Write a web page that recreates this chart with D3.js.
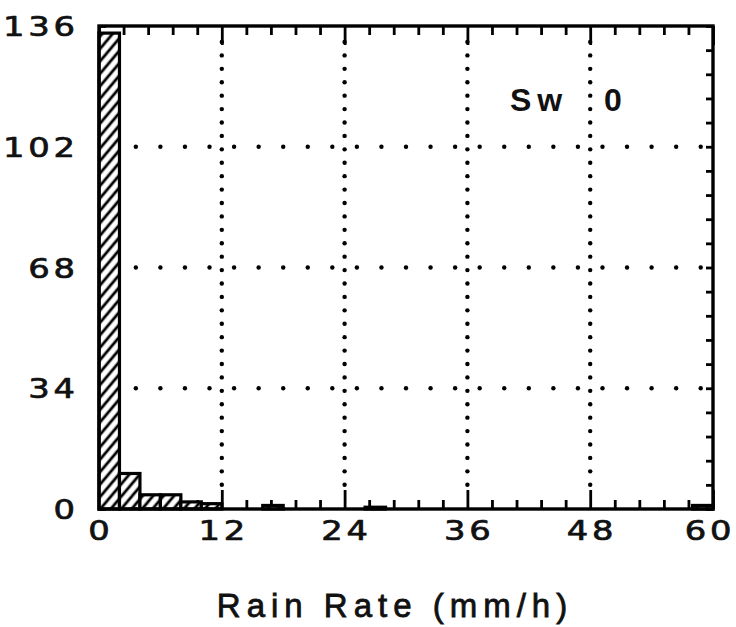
<!DOCTYPE html>
<html>
<head>
<meta charset="utf-8">
<script src="https://cdn.jsdelivr.net/npm/d3@7"></script>
<style>
  html, body { margin: 0; padding: 0; background: #fff; }
  svg { display: block; }
</style>
</head>
<body>
<svg id="chart" width="736" height="627"></svg>
<script>
// Histogram of rain rate, 2 mm/h bins from 0 to 60
const binStarts = d3.range(0, 60, 2);
const binWidth = 2;
const counts = [134, 10, 4, 4, 2, 1.5, 0, 0, 1, 0, 0, 0, 0, 0.5, 0,
                0, 0, 0, 0, 0, 0, 0, 0, 0, 0, 0, 0, 0, 0, 1];
const xTicks = [0, 12, 24, 36, 48, 60];
const yTicks = [0, 34, 68, 102, 136];
const xMinorTicks = d3.range(0, 60.01, 2.4);
const yMinorTicks = d3.range(0, 136.01, 6.8);
const xTitle = "Rain Rate (mm/h)";
const panelLabel = "Sw";
const panelValue = "0";

const svg = d3.select("#chart");
const L = 99, R = 713, T = 26, B = 509;

const x = d3.scaleLinear().domain([0, 60]).range([L, R]);
const y = d3.scaleLinear().domain([0, 136]).range([B, T]);

// hatch fill for the bars
const defs = svg.append("defs");
const pat = defs.append("pattern")
  .attr("id", "hatch")
  .attr("patternUnits", "userSpaceOnUse")
  .attr("width", 8).attr("height", 8)
  .attr("patternTransform", "rotate(40)");
pat.append("rect").attr("width", 8).attr("height", 8).attr("fill", "#fff");
pat.append("line")
  .attr("x1", 4).attr("y1", 0).attr("x2", 4).attr("y2", 8)
  .attr("stroke", "#000").attr("stroke-width", 2.8);

// dotted grid lines at the major ticks
const grid = svg.append("g");
const hDots = d3.range(1.2, 60, 2.4);
[34, 68, 102].forEach(v => {
  grid.selectAll(null).data(hDots).enter().append("circle")
    .attr("cx", d => x(d)).attr("cy", y(v)).attr("r", 2.2).attr("fill", "#000");
});
const vStep = (y(0) - y(34)) / 9;
const vDots = d3.range(T + 16, B - 14, vStep);
[12, 24, 36, 48].forEach(v => {
  grid.selectAll(null).data(vDots).enter().append("circle")
    .attr("cx", x(v)).attr("cy", d => d).attr("r", 2.2).attr("fill", "#000");
});

// inward tick marks on all four sides
function styleTicks(g) {
  g.select(".domain").remove();
  g.selectAll(".tick line").attr("stroke", "#000").attr("stroke-width", 2.8);
  g.selectAll(".tick text").remove();
}
const majorX = v => xTicks.includes(Math.round(v * 10) / 10);
svg.append("g").attr("transform", `translate(0,${B})`)
  .call(d3.axisBottom(x).tickValues(xMinorTicks).tickSize(-9))
  .call(styleTicks)
  .selectAll(".tick line").attr("y2", d => majorX(d) ? -19 : -9);
svg.append("g").attr("transform", `translate(0,${T})`)
  .call(d3.axisTop(x).tickValues(xMinorTicks).tickSize(-9))
  .call(styleTicks)
  .selectAll(".tick line").attr("y2", d => majorX(d) ? 19 : 9);
svg.append("g").attr("transform", `translate(${R},0)`)
  .call(d3.axisRight(y).tickValues(yMinorTicks).tickSize(-7))
  .call(styleTicks);
svg.append("g").attr("transform", `translate(${L},0)`)
  .call(d3.axisLeft(y).tickValues(yMinorTicks).tickSize(-7))
  .call(styleTicks);

// bars
const bins = binStarts.map((s, i) => ({ x0: s, x1: s + binWidth, n: counts[i] }));
svg.append("g").selectAll("rect")
  .data(bins.filter(d => d.n > 0)).enter().append("rect")
  .attr("x", d => x(d.x0))
  .attr("y", d => y(d.n))
  .attr("width", d => x(d.x1) - x(d.x0))
  .attr("height", d => y(0) - y(d.n))
  .attr("fill", "url(#hatch)")
  .attr("stroke", "#000")
  .attr("stroke-width", 3.2);

// frame
svg.append("rect")
  .attr("x", L).attr("y", T).attr("width", R - L).attr("height", B - T)
  .attr("fill", "none").attr("stroke", "#000").attr("stroke-width", 3.4);

// tick labels: wide plotter-style digits
const ls = 3;
const sx = 1.25;
const labelFont = "'DejaVu Sans', sans-serif";
function tickText(sel) {
  sel.attr("font-family", labelFont).attr("font-size", 27)
    .attr("letter-spacing", ls)
    .attr("fill", "#111").attr("stroke", "#111").attr("stroke-width", 0.7)
    .attr("stroke-linejoin", "round");
}
svg.append("g").selectAll("text").data(xTicks).enter().append("text")
  .attr("transform", d => `translate(${Math.min(x(d), 708)},540) scale(${sx},1)`)
  .attr("dx", ls / 2)
  .attr("text-anchor", "middle")
  .call(tickText)
  .text(d => d);
svg.append("g").selectAll("text").data(yTicks).enter().append("text")
  .attr("transform", d => `translate(75,${y(d) + 10}) scale(${sx},1)`)
  .attr("dx", ls)
  .attr("text-anchor", "end")
  .call(tickText)
  .text(d => d);

// axis title
svg.append("text")
  .attr("x", 392 + 3).attr("y", 617)
  .attr("text-anchor", "middle")
  .attr("font-family", "'Liberation Sans', Arial, sans-serif")
  .attr("font-size", 33)
  .attr("letter-spacing", 6)
  .attr("fill", "#111")
  .attr("stroke", "#111").attr("stroke-width", 0.8)
  .text(xTitle);

// panel label
svg.append("text")
  .attr("x", 510).attr("y", 111)
  .attr("font-family", "'Liberation Sans', Arial, sans-serif")
  .attr("font-size", 32).attr("font-weight", "bold")
  .attr("letter-spacing", 6)
  .attr("fill", "#111")
  .text(panelLabel);
svg.append("text")
  .attr("x", 604).attr("y", 111)
  .attr("font-family", "'Liberation Sans', Arial, sans-serif")
  .attr("font-size", 32).attr("font-weight", "bold")
  .attr("fill", "#111")
  .text(panelValue);
</script>
</body>
</html>
